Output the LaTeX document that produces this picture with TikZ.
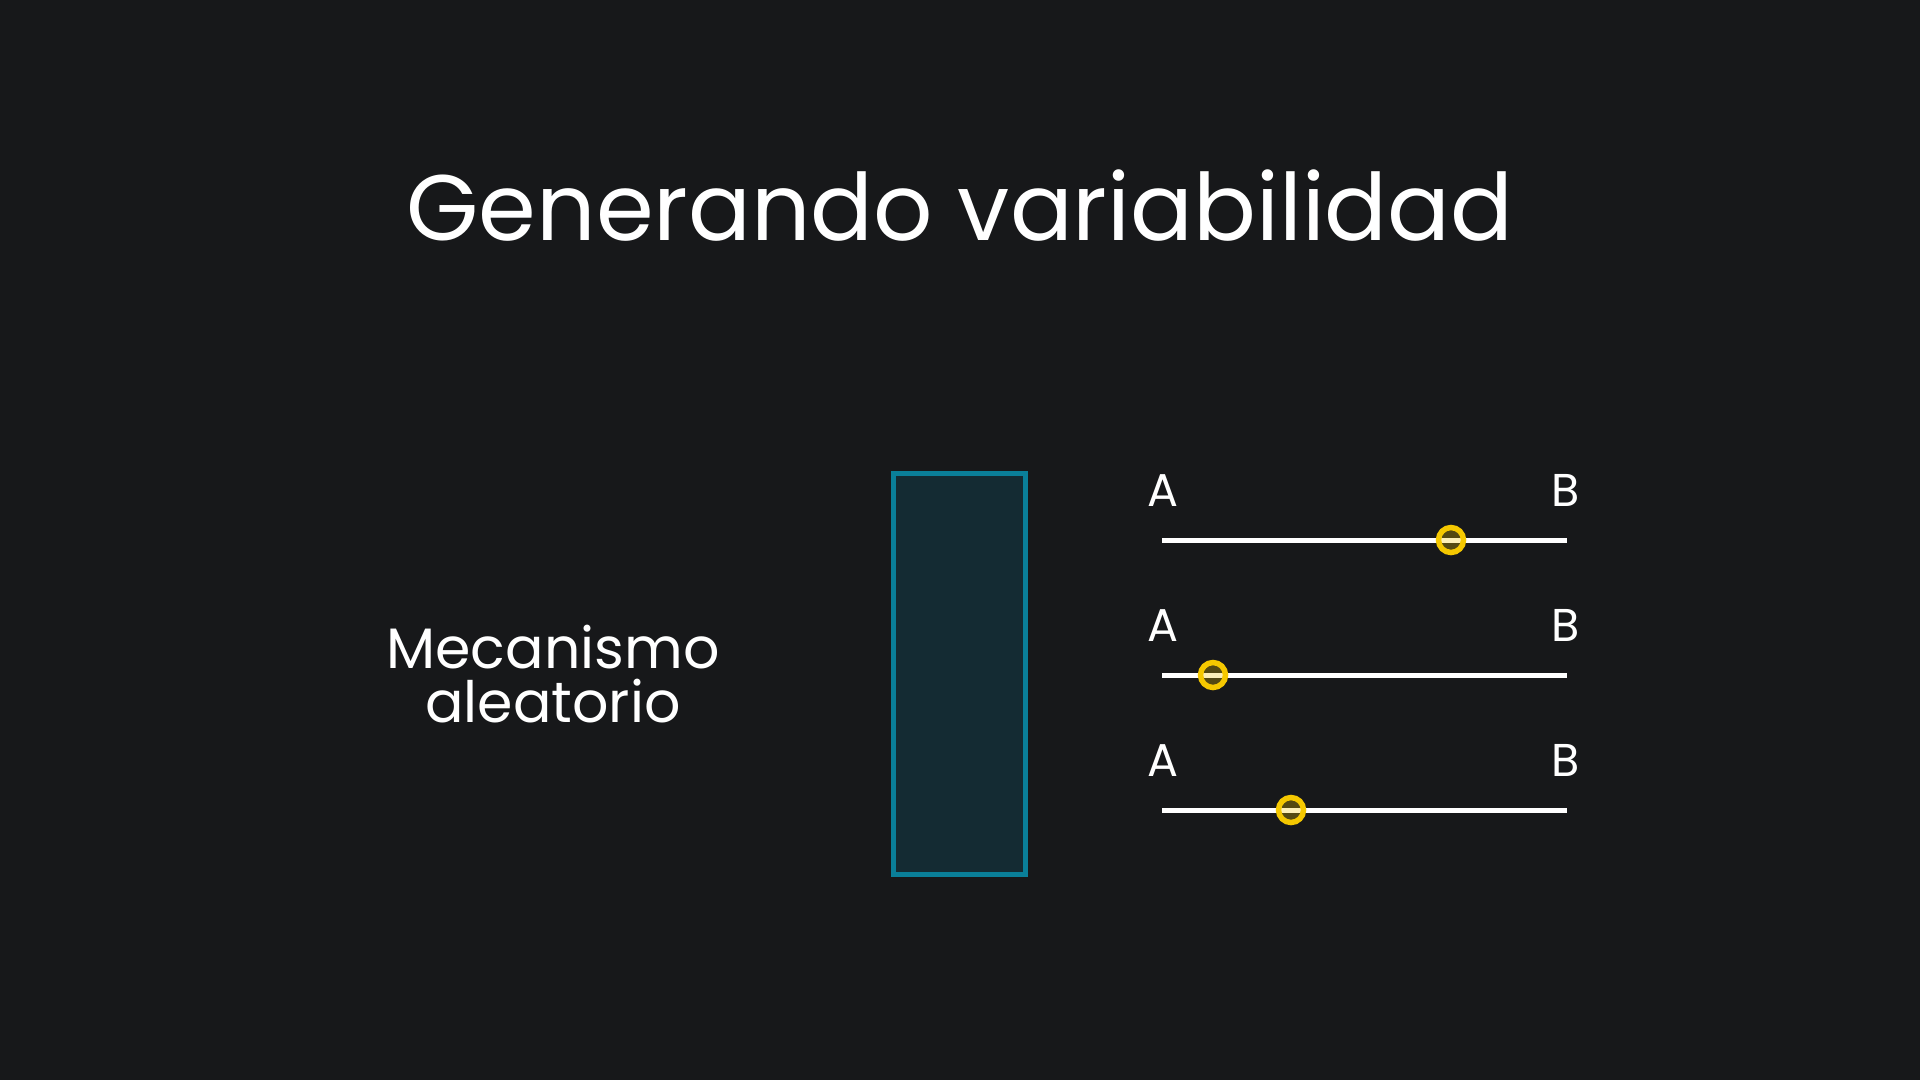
\documentclass[tikz,border=0pt]{standalone}
\usepackage{fontspec}
\setmainfont{Poppins}
\usepackage{tikz}
\usetikzlibrary{positioning}
\definecolor{bgdark}{HTML}{17181A}
\definecolor{boxedge}{HTML}{0A7F99}
\definecolor{boxfill}{HTML}{142B33}
\definecolor{pick}{HTML}{F5C800}

\begin{document}
\begin{tikzpicture}[x=1pt,y=-1pt,
  lbl/.style={text=white,inner sep=0pt,font=\fontsize{46}{50}\selectfont,anchor=base},
  track/.style={draw=white,line width=5pt},
  dot/.style={circle,draw=pick,line width=5.5pt,fill=pick,fill opacity=.28,draw opacity=1,minimum size=25pt,inner sep=0pt}]
\fill[bgdark] (0,0) rectangle (1920,1080);
\node[text=white,inner sep=0pt,font=\fontsize{93}{100}\selectfont,anchor=base] (title) at (960,240) {Generando variabilidad};
\node[text=white,inner sep=0pt,font=\fontsize{57}{54}\selectfont,align=center] (mech) at (553,674) {Mecanismo\\aleatorio};
\node[draw=boxedge,fill=boxfill,line width=5pt,minimum width=132pt,minimum height=401pt,inner sep=0pt] (gen) at (959.5,674) {};
% first draw
\node[lbl] (a1) at (1163,506) {A};
\node[lbl] (b1) at (1566,506) {B};
\coordinate (s1) at (1162,540);
\coordinate (e1) at (1567,540);
\draw[track] (s1) -- (e1);
\node[dot] (d1) at (1451,540) {};
% second draw
\node[lbl] (a2) at (1163,641) {A};
\node[lbl] (b2) at (1566,641) {B};
\coordinate (s2) at (1162,675);
\coordinate (e2) at (1567,675);
\draw[track] (s2) -- (e2);
\node[dot] (d2) at (1213,675) {};
% third draw
\node[lbl] (a3) at (1163,776) {A};
\node[lbl] (b3) at (1566,776) {B};
\coordinate (s3) at (1162,810);
\coordinate (e3) at (1567,810);
\draw[track] (s3) -- (e3);
\node[dot] (d3) at (1291,810) {};
\end{tikzpicture}
\end{document}
